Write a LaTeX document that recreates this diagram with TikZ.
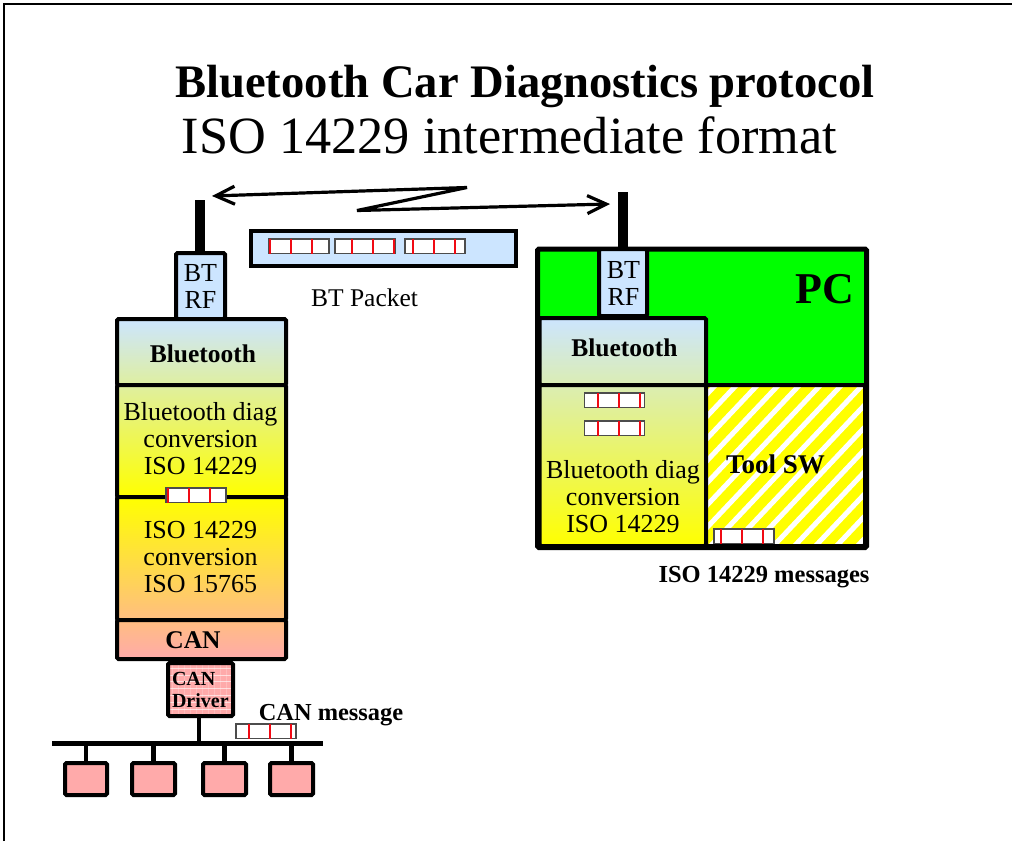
\documentclass[tikz,border=0pt]{standalone}
\usepackage{fontspec}
\setmainfont{Liberation Serif}
\usetikzlibrary{arrows.meta,calc}
\definecolor{skyb}{HTML}{CCE5FF}
\definecolor{pinkb}{HTML}{FFAAAA}
\definecolor{midblue}{HTML}{DFEFA0}
\definecolor{midor}{HTML}{FFBE81}
\definecolor{rmid}{HTML}{DBEDB3}
\definecolor{pcgreen}{HTML}{00FF00}
\definecolor{tickred}{HTML}{F00A14}
\definecolor{yel}{HTML}{FFFF00}
\newcommand{\fs}[1]{\fontsize{#1}{#1}\selectfont}
\newcommand{\fsl}[2]{\fontsize{#1}{#2}\selectfont}
% \blk{name}{x1}{y1}{x2}{y2}{options}{text}
\newcommand{\blk}[7]{%
  \pgfmathsetmacro{\bw}{#4-#2}\pgfmathsetmacro{\bh}{#5-#3}%
  \node[boxb,minimum width=\bw pt,minimum height=\bh pt,anchor=north west,#6] (#1) at (#2,#3) {#7};}
% \msgbar{name}{x}{y}{first tick offset}
\newcommand{\msgbar}[4]{%
  \node[msgbox,anchor=north west] (#1) at (#2,#3) {};
  \foreach \k in {0,1,2} \draw[tickline] ($(#1.north west)+(#4+21*\k,0)$) -- ($(#1.south west)+(#4+21*\k,0)$);}
\tikzset{
  x=1pt,y=-1pt,
  boxb/.style={draw=black,line width=4pt,rounded corners=1.5pt,inner sep=0pt,outer sep=0pt},
  msgbox/.style={draw=black!70,line width=1.2pt,fill=white,minimum width=60pt,minimum height=14.5pt,inner sep=0pt,outer sep=0pt},
  tickline/.style={draw=tickred,line width=2pt},
  wire/.style={draw=black,line width=4.5pt},
  antenna/.style={draw=black,line width=10pt},
  wave/.style={draw=black,line width=3.2pt,miter limit=10,{Straight Barb[length=19pt,width=18pt,line width=3.2pt]}-{Straight Barb[length=19pt,width=18pt,line width=3.2pt]}},
  lbl/.style={inner sep=0pt,outer sep=0pt,align=center,text=black},
  reg/.style={lbl,font=\fsl{26}{27}},
  bld/.style={lbl,font=\bfseries\fs{25.5}},
}
\begin{document}
\begin{tikzpicture}
\useasboundingbox (0,0) rectangle (1012,841);
\fill[white] (0,0) rectangle (1012,841);
% page frame
\coordinate (fa) at (4.3,841); \coordinate (fb) at (4.3,4.3); \coordinate (fc) at (1012,4.3);
\draw[black,line width=2pt,line join=miter] (fa) -- (fb) -- (fc);
% titles
\node[lbl,font=\bfseries\fs{46.6}] (title) at (525,86.5) {Bluetooth Car Diagnostics protocol};
\node[lbl,font=\fs{52.3}] (subtitle) at (509.5,135) {ISO 14229 intermediate format};

% left stack
\coordinate (antLtop) at (200,200);
\blk{rfL}{176}{253}{225}{319}{fill=skyb}{}
\draw[antenna] (antLtop) -- (antLtop |- rfL.north);
\node[reg] (rfLt) at (200.5,286) {BT\\RF};
\blk{lbtL}{117}{319}{286}{385}{top color=skyb,bottom color=midblue}{}
\blk{ldiag}{117}{385}{286}{497}{top color=midblue,bottom color=yel}{}
\blk{liso}{117}{497}{286}{620}{top color=yel,bottom color=midor}{}
\blk{lcan}{117}{620}{286}{659}{top color=midor,bottom color=pinkb}{}
\node[bld] (lbtLt) at (203,354) {Bluetooth};
\node[reg] (ldiagt) at (200.5,439) {Bluetooth diag\\conversion\\ISO 14229};
\node[reg] (lisot) at (200.5,557) {ISO 14229\\conversion\\ISO 15765};
\node[bld] (lcant) at (193,640) {CAN};
\msgbar{mL}{166}{488}{2}

% driver and bus
\blk{drv}{168}{663}{233}{716}{fill=pinkb,path picture={
   \foreach \yy in {-21,-14,-8,-1,6,13,20} \draw[white,opacity=0.6,line width=0.4pt] (-40,\yy) -- (40,\yy);
   \foreach \xx in {-28,-22,-16,-10,-4,2,8,14,20,26} \draw[white,opacity=0.2,line width=0.4pt] (\xx,-30) -- (\xx,30);
 }}{}
\node[lbl,font=\bfseries\fsl{20}{22},align=left,anchor=west] (drvt) at (172,690) {CAN\\Driver};
\node[fill=black,minimum width=271pt,minimum height=4.5pt,inner sep=0pt,outer sep=0pt,anchor=west] (bus) at (52,743.5) {};
\draw[wire] ([xshift=-1.5pt]drv.south) -- ([xshift=-1.5pt]drv.south |- bus.south);
\blk{d1}{65}{763}{107}{795}{fill=pinkb}{}
\blk{d2}{132}{763}{175}{795}{fill=pinkb}{}
\blk{d3}{203}{763}{246}{795}{fill=pinkb}{}
\blk{d4}{270}{763}{313}{795}{fill=pinkb}{}
\foreach \n in {d1,d2,d3,d4} \draw[wire] (\n.north) -- (\n.north |- bus.south);
\msgbar{mC}{236}{724}{13}
\node[lbl,font=\bfseries\fs{24.4}] (cant) at (331,715) {CAN message};

% packet
\blk{pkt}{251}{231}{516}{266}{fill=skyb,rounded corners=0pt}{}
\msgbar{p1}{269}{239}{1}
\msgbar{p2}{335}{239}{17}
\msgbar{p3}{405}{239}{8}
\node[lbl,font=\fs{25.5}] (pktt) at (364.5,298) {BT Packet};

% PC
\blk{pc}{537.5}{249}{866.5}{547.5}{fill=pcgreen,line width=5pt}{}
\coordinate (antRtop) at (623,192);
\blk{rfR}{599}{249}{647}{316}{fill=skyb}{}
\draw[antenna] (antRtop) -- (antRtop |- rfR.north);
\node[reg] (rfRt) at (623.5,283) {BT\\RF};
\blk{rbt}{539.5}{318}{706}{385}{top color=skyb,bottom color=rmid}{}
\blk{rdiag}{539.5}{385}{706}{546}{top color=rmid,bottom color=yel}{}
\blk{tool}{706}{385}{865}{546}{fill=yel,path picture={
   \foreach \i in {-273,-252,...,110} \draw[white,line width=5pt] (\i,90) -- (\i+170,-90);
 }}{}
\node[lbl,font=\bfseries\fs{44}] (pct) at (825,289) {PC};
\node[bld] (rbtt) at (624.5,348) {Bluetooth};
\node[reg] (rdiagt) at (623,497) {Bluetooth diag\\conversion\\ISO 14229};
\node[lbl,font=\bfseries\fs{27}] (toolt) at (775.5,464) {Tool SW};
\msgbar{r1}{584.5}{393}{13.5}
\msgbar{r2}{584.5}{421}{13.5}
\msgbar{t1}{714}{529}{7}
\node[lbl,font=\bfseries\fs{24.5}] (isot) at (764,577) {ISO 14229 messages};

% radio link
\coordinate (wa) at (212,196); \coordinate (wb) at (467,187.5); \coordinate (wc) at (357,210.5); \coordinate (wd) at (610,204);
\draw[wave] (wa) -- (wb) -- (wc) -- (wd);
\end{tikzpicture}
\end{document}
